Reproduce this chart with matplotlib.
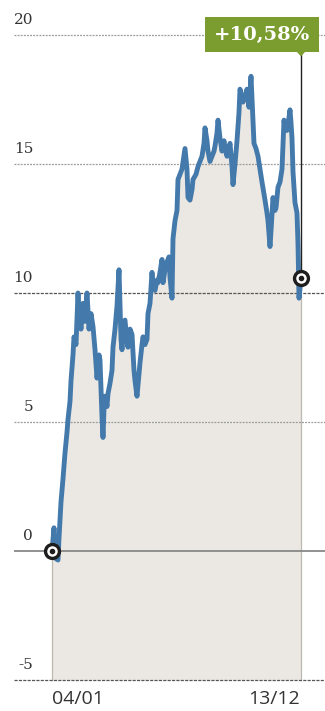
import matplotlib
matplotlib.use("Agg")
import matplotlib.pyplot as plt
from matplotlib.patches import Rectangle, Polygon

# trading day index and cumulative change (%)
days = [0, 2, 3, 4, 6, 7, 9, 11, 13, 15, 16, 18, 19, 21, 22, 24, 26, 27, 29, 31,
        33, 35, 37, 39, 41, 43, 45, 47, 48, 50, 51, 52, 53, 55, 56, 58, 60, 61, 63, 65,
        67, 69, 70, 72, 73, 75, 76, 78, 80, 82, 83, 85, 87, 88, 90, 91, 93, 95, 96, 98,
        100, 101, 103, 105, 106, 108, 110, 111, 113, 115, 117, 118, 120, 121, 123, 125, 126, 128, 130, 133,
        135, 136, 138, 140, 141, 144, 146, 148, 150, 152, 153, 155, 156, 158, 160, 162, 163, 165, 166, 168,
        170, 172, 173, 175, 177, 178, 180, 181, 183, 185, 187, 188, 190, 191, 193, 195, 197, 199, 200, 202,
        204, 206, 208, 210, 213, 215, 216, 218, 219, 221, 223, 224, 226, 228, 230, 232, 233, 235, 237, 238,
        239, 240, 241, 243, 245, 246, 247, 248, 249]
pct = [0.0, 0.9, 0.2, -0.3, -0.35, 0.5, 1.9, 2.8, 3.8, 4.6, 5.1, 5.8, 6.6, 7.6, 8.3, 8.0, 10.0, 9.2, 8.6, 9.6,
       8.9, 10.0, 8.6, 9.2, 8.7, 7.8, 6.7, 7.6, 7.4, 5.2, 4.4, 5.5, 6.0, 5.6, 6.1, 6.5, 7.0, 7.9, 8.6, 9.5,
       10.9, 8.2, 7.8, 8.9, 8.95, 8.1, 7.9, 8.6, 8.4, 7.0, 6.6, 6.0, 6.9, 7.3, 8.0, 8.3, 8.0, 8.2, 9.2, 9.6,
       10.8, 10.3, 10.1, 10.5, 10.4, 10.8, 11.3, 10.4, 10.9, 11.2, 11.4, 10.6, 9.8, 12.1, 12.8, 13.2, 14.4, 14.6, 14.8, 15.6,
       14.8, 13.7, 13.6, 14.0, 14.4, 14.6, 14.9, 15.1, 15.3, 15.8, 16.4, 15.9, 15.5, 15.1, 15.3, 15.5, 15.7, 16.2, 16.7, 16.0,
       15.5, 15.9, 15.6, 15.3, 15.6, 15.8, 14.9, 14.2, 15.0, 15.9, 17.0, 17.9, 17.6, 17.4, 17.6, 17.9, 17.2, 18.4, 17.5, 15.8,
       15.6, 15.3, 14.8, 14.3, 13.6, 13.1, 12.8, 11.8, 12.4, 13.7, 13.2, 13.3, 14.1, 14.3, 14.8, 16.7, 16.4, 16.3, 16.8, 17.1,
       16.6, 16.0, 14.7, 13.5, 13.1, 11.9, 9.8, 10.2, 10.58]

yticks = [-5, 0, 5, 10, 15, 20]
xlabels = ["04/01", "13/12"]
last_label = "+10,58%"

fig = plt.figure(figsize=(3.25, 7.11), dpi=100)
ax = fig.add_axes([0, 0, 1, 1])
ax.set_xlim(-52, 273)
ax.set_ylim(-160 / 25.8, 551 / 25.8)
ax.axis("off")

# area under the curve
ax.fill_between(days, pct, -5, color="#ebe8e3", lw=0, zorder=1)
ax.plot([days[0], days[0]], [-5, pct[0]], color="#bdb8b0", lw=0.9, zorder=2)
ax.plot([days[-1], days[-1]], [-5, pct[-1]], color="#bdb8b0", lw=0.9, zorder=2)

# grid lines and value labels
for v in yticks:
    if v == 0:
        ax.hlines(v, -38, 273, color="#888888", lw=1.3, zorder=2)
    elif v in (10, -5):
        ax.hlines(v, -38, 273, color="#555555", lw=0.9, linestyles=(0, (2.5, 1)), zorder=2)
    else:
        ax.hlines(v, -38, 273, color="#999999", lw=0.9, linestyles=(0, (1.5, 1)), zorder=2)
    ax.text(-19, v + 0.3, str(v), ha="right", va="bottom", fontsize=11,
            family="DejaVu Serif", color="#333333")

ax.plot(days, pct, color="#4479ab", lw=3.5, solid_joinstyle="round", zorder=3)

# start / end markers
for d, p in [(days[0], pct[0]), (days[-1], pct[-1])]:
    ax.plot(d, p, marker="o", ms=10, mfc="white", mec="#1e1e1e", mew=2.4, zorder=5)
    ax.plot(d, p, marker="o", ms=3, mfc="#1e1e1e", mec="#1e1e1e", zorder=6)

# callout for the last value
box_top, box_bot = 534 / 25.8, 499 / 25.8
ax.plot([days[-1], days[-1]], [pct[-1], box_bot], color="#222222", lw=1.0, zorder=4)
ax.add_patch(Rectangle((153, box_bot), 114, box_top - box_bot, color="#7b9c2f", lw=0, zorder=6))
ax.add_patch(Polygon([(days[-1] - 4, box_bot), (days[-1] + 4, box_bot), (days[-1], box_bot - 0.17)],
                     closed=True, color="#7b9c2f", lw=0, zorder=6))
ax.text(210, (box_top + box_bot) / 2, last_label, ha="center", va="center", fontsize=14,
        family="DejaVu Serif", weight="bold", color="white", zorder=7)

# date labels
ax.text(days[0], -5.75, xlabels[0], ha="left", va="center", fontsize=14,
        family="Open Sans", color="#333333")
ax.text(days[-1] - 1, -5.75, xlabels[1], ha="right", va="center", fontsize=14,
        family="Open Sans", color="#333333")

fig.savefig("out.png", dpi=100)
